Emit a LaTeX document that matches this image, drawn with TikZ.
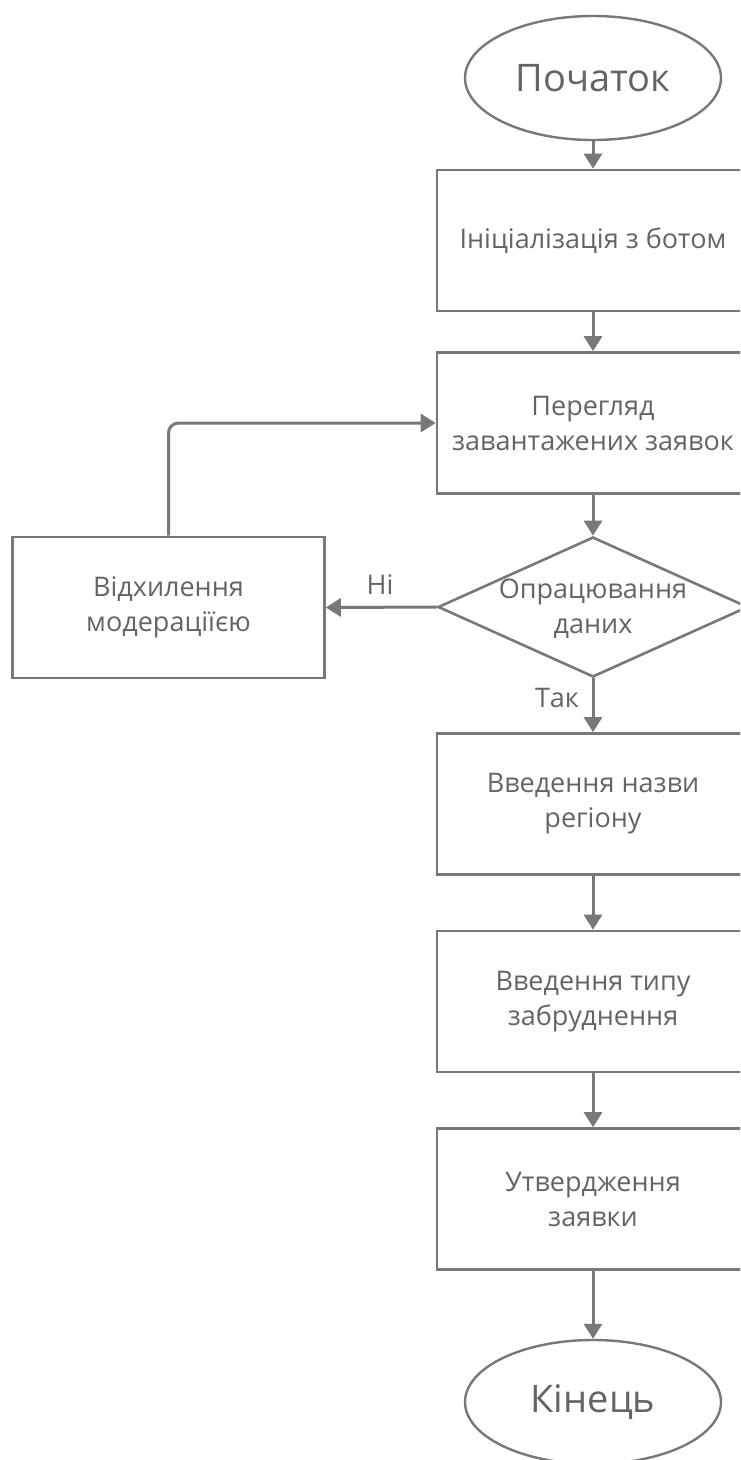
\documentclass[tikz,border=0pt]{standalone}
\usepackage{fontspec}
\setmainfont{Open Sans}
\usetikzlibrary{shapes.geometric,arrows.meta}
\definecolor{linegray}{RGB}{120,120,120}
\definecolor{txtgray}{RGB}{100,100,100}

\begin{document}
\begin{tikzpicture}[x=1pt,y=-1pt,
  block/.style={draw=linegray, line width=2.6pt, rectangle, minimum width=312pt,
    minimum height=141pt, inner sep=0pt, align=center, text=txtgray,
    font=\fontsize{27}{35}\selectfont},
  term/.style={draw=linegray, line width=2.4pt, ellipse, minimum width=256pt,
    minimum height=124pt, inner sep=0pt, text=txtgray,
    font=\fontsize{38}{44}\selectfont},
  decision/.style={draw=linegray, line width=2.6pt, diamond, minimum width=310pt,
    minimum height=140pt, inner sep=0pt},
  lbl/.style={text=txtgray, align=center, font=\fontsize{27}{35}\selectfont},
  flow/.style={draw=linegray, line width=3pt, -{Triangle[width=18pt,length=15pt]}}]
%% frame
\useasboundingbox (0,0) rectangle (740,1460);
\clip (0,0) rectangle (740,1460);
%% nodes
\node[term]  (start)  at (593,78)   {Початок};
\node[block] (init)   at (593,240.5) {Ініціалізація з ботом};
\node[block] (view)   at (593,423)  {Перегляд\\завантажених заявок};
\node[decision] (check) at (593,607) {};
\node[lbl]   (checktxt) at (593,609) {Опрацювання\\даних};
\node[block] (reject) at (168.5,607.5) {Відхилення\\модераціїєю};
\node[block] (region) at (593,804)  {Введення назви\\регіону};
\node[block] (dirt)   at (593,1001.5) {Введення типу\\забруднення};
\node[block] (approve) at (593,1199) {Утвердження\\заявки};
\node[term]  (stop)   at (593,1402) {Кінець};
%% flow
\draw[flow] (start) -- (init);
\draw[flow] (init) -- (view);
\draw[flow] (view) -- (check);
\draw[flow] (check.west) -- (reject.east);
\draw[flow] (check.south) -- (region);
\draw[flow] (region) -- (dirt);
\draw[flow] (dirt) -- (approve);
\draw[flow] (approve) -- (stop);
\draw[flow, rounded corners=10pt] (reject.north) |- (view.west);
%% answers
\node[lbl] (no)  at (380,585) {Ні};
\node[lbl] (yes) at (557,698) {Так};
\end{tikzpicture}
\end{document}
